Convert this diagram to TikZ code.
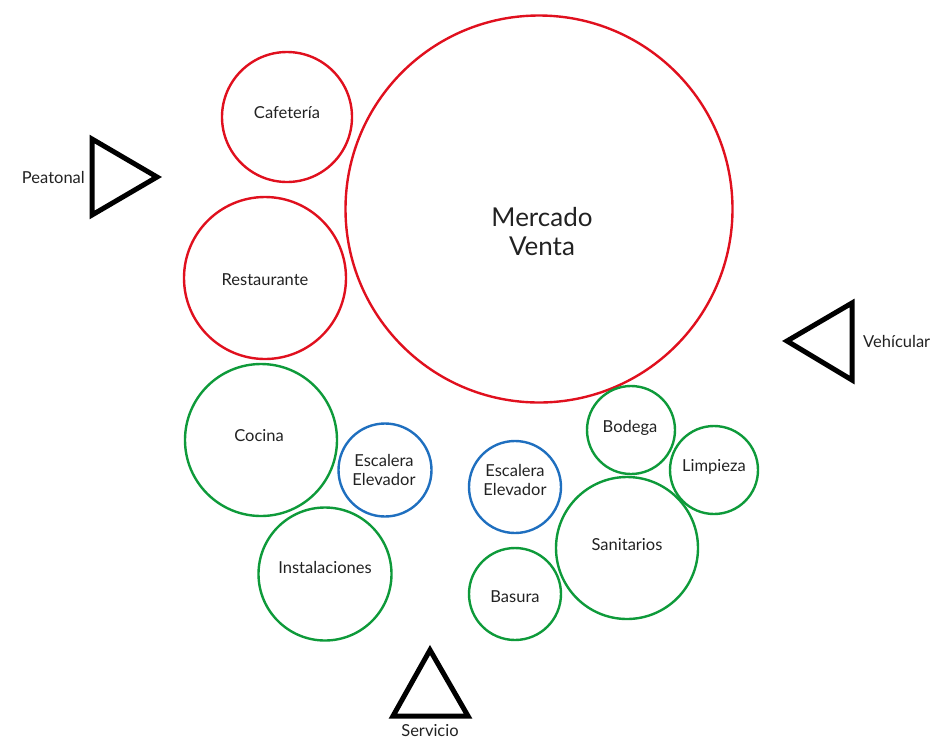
\documentclass[tikz,border=0pt]{standalone}
\usepackage{fontspec}
\setmainfont{Lato}
\definecolor{cred}{HTML}{E0101E}
\definecolor{cgreen}{HTML}{0E9A3A}
\definecolor{cblue}{HTML}{1F6FBF}
\definecolor{ctext}{HTML}{222222}
\begin{document}
\begin{tikzpicture}[x=1pt,y=-1pt,
  zone/.style={circle,draw,line width=2.4pt,inner sep=0pt},
  rz/.style={zone,draw=cred},
  gz/.style={zone,draw=cgreen},
  bz/.style={zone,draw=cblue},
  acc/.style={draw=black,line width=5pt,line join=miter},
  lbl/.style={text=ctext,align=center,inner sep=0pt,font=\fontsize{16.5}{19}\selectfont}]
\useasboundingbox (0,0) rectangle (932,740);
\node[rz,minimum size=130pt] (caf) at (287,117) {};
\node[rz,minimum size=387pt] (mer) at (539,209) {};
\node[rz,minimum size=162pt] (res) at (265,278) {};
\node[gz,minimum size=152pt] (coc) at (261,440) {};
\node[bz,minimum size=93pt] (esc1) at (385,470) {};
\node[gz,minimum size=133pt] (ins) at (325,574) {};
\node[bz,minimum size=92pt] (esc2) at (515,487) {};
\node[gz,minimum size=88pt] (bod) at (631,430) {};
\node[gz,minimum size=88pt] (lim) at (714,470) {};
\node[gz,minimum size=142pt] (san) at (627,548) {};
\node[gz,minimum size=92pt] (bas) at (515,594) {};
% labels
\node[lbl] (tcaf) at (287,113) {Cafetería};
\node[lbl,font=\fontsize{26}{29}\selectfont] (tmer) at (542,232) {Mercado\\Venta};
\node[lbl] (tres) at (265,280) {Restaurante};
\node[lbl] (tcoc) at (259,436) {Cocina};
\node[lbl] (tesc1) at (384,470) {Escalera\\Elevador};
\node[lbl] (tins) at (325,567) {Instalaciones};
\node[lbl] (tesc2) at (515,480) {Escalera\\Elevador};
\node[lbl] (tbod) at (630,428) {Bodega};
\node[lbl] (tlim) at (714,467) {Limpieza};
\node[lbl] (tsan) at (627,545) {Sanitarios};
\node[lbl] (tbas) at (515,597) {Basura};
% access triangles
\coordinate (p1) at (92,139); \coordinate (p2) at (92,215); \coordinate (p3) at (157,177);
\draw[acc] (p1) -- (p2) -- (p3) -- cycle;
\node[lbl,anchor=east] (pea) at (85,177) {Peatonal};
\coordinate (v1) at (852,303); \coordinate (v2) at (852,380); \coordinate (v3) at (787,341);
\draw[acc] (v1) -- (v2) -- (v3) -- cycle;
\node[lbl,anchor=west] (veh) at (863,341) {Vehícular};
\coordinate (s1) at (430,650); \coordinate (s2) at (393,716); \coordinate (s3) at (468,716);
\draw[acc] (s1) -- (s2) -- (s3) -- cycle;
\node[lbl] (ser) at (430,731) {Servicio};
\end{tikzpicture}
\end{document}
